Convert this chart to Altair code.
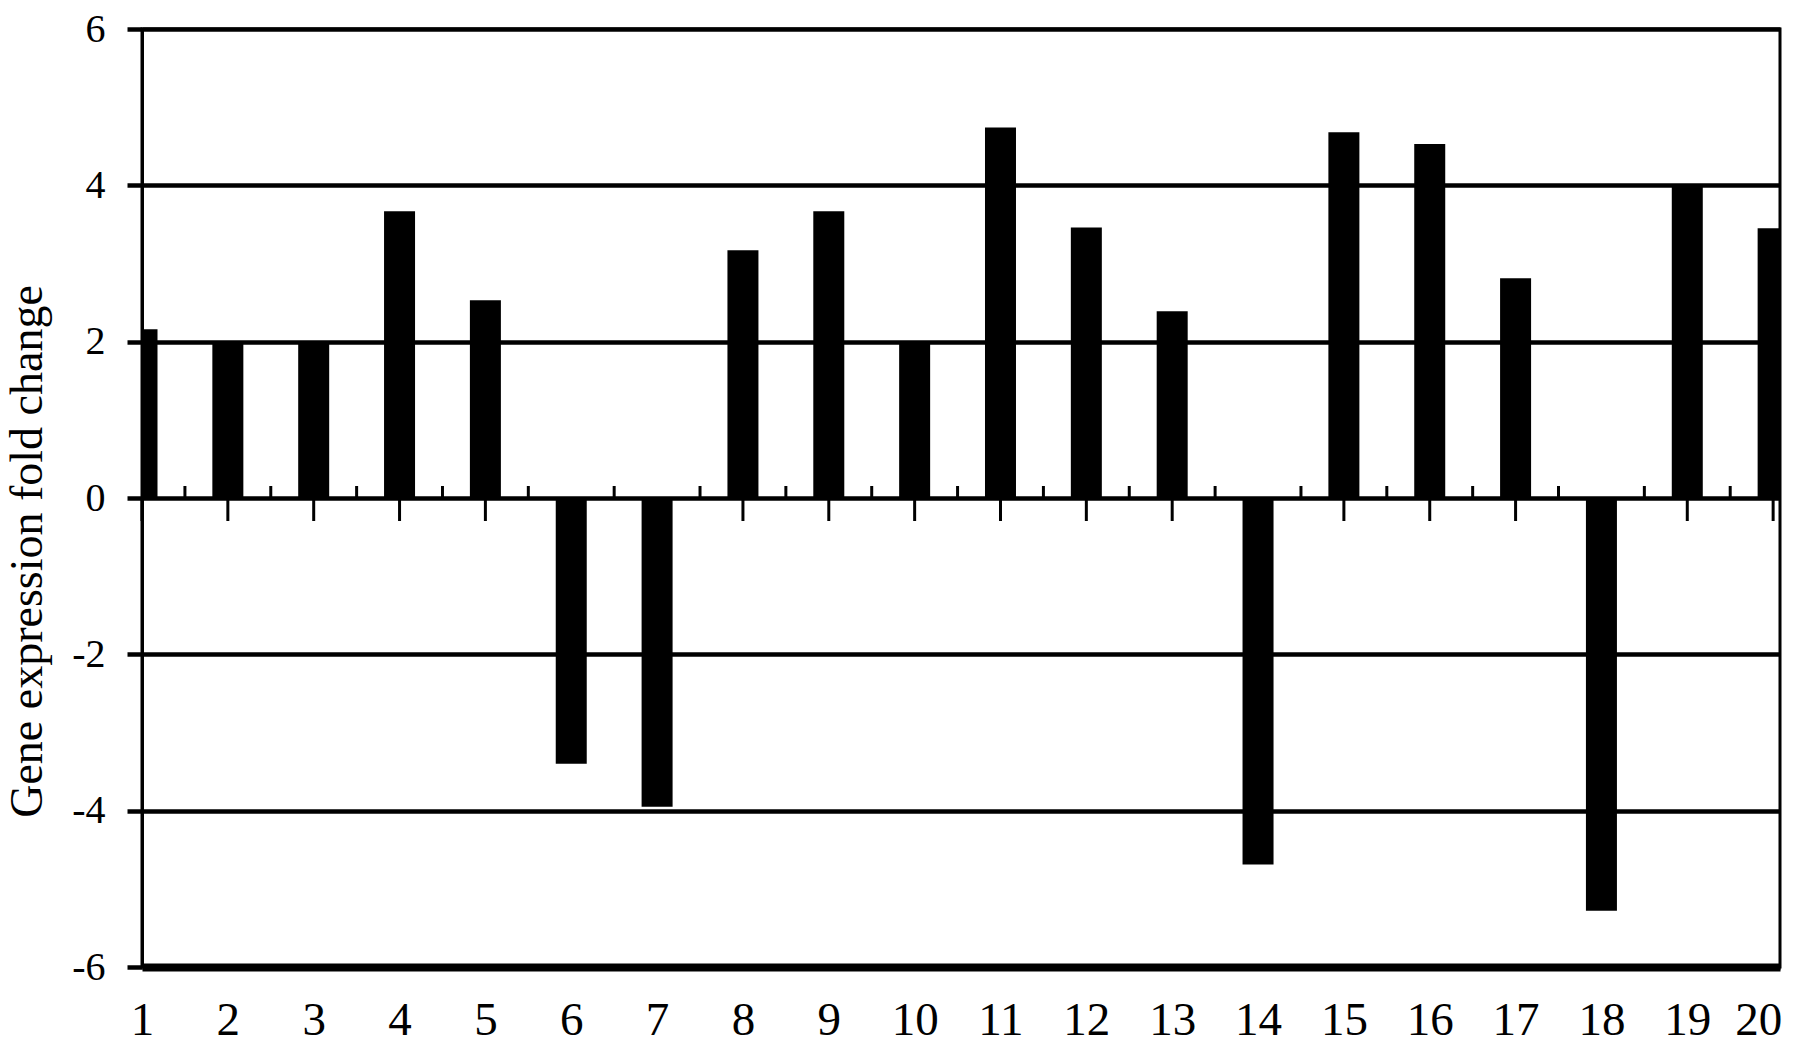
import altair as alt
import pandas as pd

# ---- data ----
positions = list(range(1, 21))
fold_change = [2.16, 2.0, 2.0, 3.67, 2.53, -3.40, -3.95, 3.17, 3.67, 2.0,
               4.74, 3.46, 2.39, -4.69, 4.68, 4.53, 2.81, -5.28, 4.0, 3.45]
y_ticks = [-6, -4, -2, 0, 2, 4, 6]
x_labels = list(range(1, 21))
major_ticks = list(range(1, 21))
minor_ticks = [1.5, 2.5, 3.5, 4.5, 5.5, 6.5, 7.5, 8.5, 9.5, 10.5,
               11.5, 12.5, 13.5, 14.5, 15.5, 16.5, 17.5, 18.5, 19.5]

FONT = "Liberation Serif"
Y_TITLE = "Gene expression fold change"

bars_df = pd.DataFrame({"pos": positions, "value": fold_change})
major_df = pd.DataFrame({"pos": major_ticks, "value": [0] * len(major_ticks)})
minor_df = pd.DataFrame({"pos": minor_ticks, "value": [0] * len(minor_ticks)})

xs = alt.Scale(domain=[1, 20.08], nice=False, zero=False, padding=0)
ys = alt.Scale(domain=[-6, 6], nice=False, zero=False, padding=0)

x_axis = alt.Axis(
    values=x_labels, orient="bottom", grid=False, ticks=False, tickSize=0,
    domain=True, domainColor="black", domainWidth=8,
    labelFont=FONT, labelFontSize=47, labelColor="black",
    labelPadding=67, labelBaseline="alphabetic", labelFlush=False,
    labelOverlap=False, labelExpr="'' + datum.value",
    labelOffset={"condition": {"test": "datum.value == 20", "value": -15}, "value": 0},
)

y_axis = alt.Axis(
    values=y_ticks, orient="left",
    grid=True, gridColor="black", gridWidth=4.5, gridOpacity=1,
    domain=True, domainColor="black", domainWidth=3,
    ticks=True, tickColor="black", tickSize=15, tickWidth=4.5,
    labelFont=FONT, labelFontSize=40, labelColor="black", labelPadding=22,
    labelExpr="'' + datum.value", labelOverlap=False,
    titleFont=FONT, titleFontSize=46,
    titleFontWeight="normal", titleColor="black", titleAngle=270,
    titleAlign="center", titleBaseline="alphabetic", titleX=-101, titleY=522,
)

bars = alt.Chart(bars_df).mark_bar(color="black", size=31, clip=True).encode(
    x=alt.X("pos:Q", scale=xs, axis=x_axis, title=None),
    y=alt.Y("value:Q", scale=ys, axis=y_axis, title=Y_TITLE),
    y2=alt.Y2("base:Q"),
).transform_calculate(base="0")

major = alt.Chart(major_df).mark_rule(color="black", strokeWidth=3, y2Offset=23).encode(
    x=alt.X("pos:Q", scale=xs, title=None),
    y=alt.Y("value:Q", scale=ys, title=Y_TITLE),
    y2=alt.Y2("value:Q"),
)

minor = alt.Chart(minor_df).mark_rule(color="black", strokeWidth=3, y2Offset=-12).encode(
    x=alt.X("pos:Q", scale=xs, title=None),
    y=alt.Y("value:Q", scale=ys, title=Y_TITLE),
    y2=alt.Y2("value:Q"),
)

chart = (
    alt.layer(bars, major, minor)
    .properties(
        width=1638, height=938,
        padding={"left": 134, "top": 21, "right": 5, "bottom": 77},
        autosize=alt.AutoSizeParams(type="none"),
        background="white",
    )
    .configure_view(stroke="black", strokeWidth=3)
)

chart.save("out.html", embed_options={"renderer": "svg", "actions": False})
